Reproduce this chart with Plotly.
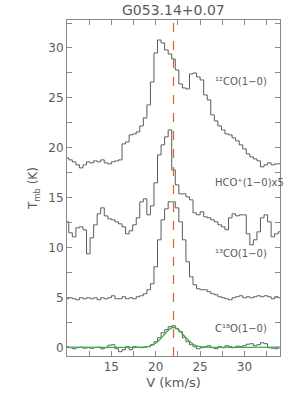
import plotly.graph_objects as go

velocity = [10.0, 10.4, 10.8, 11.2, 11.6, 12.0, 12.4, 12.8, 13.2, 13.6, 14.0, 14.4, 14.8, 15.2, 15.6,
            16.0, 16.4, 16.8, 17.2, 17.6, 18.0, 18.4, 18.8, 19.2, 19.6, 20.0, 20.4, 20.8, 21.2, 21.6,
            22.0, 22.4, 22.8, 23.2, 23.6, 24.0, 24.4, 24.8, 25.2, 25.6, 26.0, 26.4, 26.8, 27.2, 27.6,
            28.0, 28.4, 28.8, 29.2, 29.6, 30.0, 30.4, 30.8, 31.2, 31.6, 32.0, 32.4, 32.8, 33.2, 33.6, 34.0]

co12 = [19.0, 18.8, 18.6, 18.3, 18.0, 18.3, 18.6, 18.5, 18.7, 18.6, 18.8, 18.5, 18.4, 18.6, 18.7,
        18.8, 20.4, 20.6, 21.3, 21.4, 21.6, 22.2, 23.0, 24.3, 26.6, 29.5, 30.8, 30.5, 29.8, 29.4,
        28.9, 27.8, 26.4, 26.0, 25.9, 27.4, 27.5, 27.1, 26.8, 25.3, 24.8, 23.3, 22.7, 22.2, 21.8,
        21.4, 21.3, 21.0, 20.7, 20.3, 19.9, 19.4, 19.1, 18.9, 18.7, 18.1, 18.3, 18.5, 18.3, 18.4, 18.4]

hco_x5 = [12.6, 11.5, 11.1, 12.0, 12.1, 11.8, 9.4, 11.0, 12.3, 13.4, 14.0, 13.2, 12.9, 12.8, 12.6,
          12.4, 12.1, 11.4, 11.7, 12.3, 13.0, 14.6, 14.9, 13.3, 14.2, 16.5, 19.3, 20.3, 21.1, 21.8,
          17.8, 16.3, 15.4, 15.4, 15.1, 14.8, 13.5, 13.3, 13.6, 13.1, 13.0, 12.8, 12.6, 12.3, 12.1,
          11.8, 13.0, 13.4, 13.2, 13.3, 13.3, 11.4, 10.3, 10.8, 11.6, 13.0, 13.3, 12.6, 11.1, 11.4, 11.6]

co13 = [4.9, 5.0, 4.9, 4.8, 5.0, 4.9, 5.0, 4.9, 5.0, 4.8, 5.0, 4.9, 5.0, 5.2, 4.9,
        4.9, 5.1, 4.9, 5.0, 4.9, 5.1, 5.2, 5.4, 5.8, 6.4, 8.1, 10.8, 12.8, 13.9, 14.6,
        14.6, 14.0, 12.6, 10.8, 8.6, 7.1, 6.3, 5.9, 5.8, 5.8, 5.6, 5.4, 5.3, 5.1, 5.0,
        4.9, 4.8, 5.0, 5.1, 5.2, 5.0, 5.1, 5.0, 5.1, 5.2, 5.1, 5.2, 5.1, 4.9, 5.1, 5.0]

c18o = [0.1, 0.0, -0.1, 0.0, 0.05, -0.05, 0.0, -0.05, 0.0, 0.05, -0.1, 0.0, 0.25, 0.3, -0.1,
        -0.4, -0.2, 0.1, -0.2, 0.1, 0.05, 0.0, 0.05, 0.1, 0.3, 0.6, 1.0, 1.5, 1.8, 2.1,
        2.2, 1.9, 1.6, 1.0, 0.6, 0.3, 0.1, -0.1, 0.0, 0.1, 0.2, 0.0, -0.1, 0.1, 0.0,
        0.2, 0.1, 0.0, 0.15, 0.1, 0.2, 0.35, 0.4, 0.2, 0.3, 0.5, 0.4, 0.0, -0.05, -0.1, 0.0]

fit_velocity = [10.0, 18.5, 19.0, 19.5, 20.0, 20.5, 21.0, 21.5, 22.0, 22.5, 23.0, 23.5, 24.0, 24.5, 25.0, 25.5, 34.0]
fit_c18o = [0.05, 0.06, 0.1, 0.22, 0.45, 0.85, 1.35, 1.8, 2.05, 1.85, 1.4, 0.9, 0.5, 0.22, 0.1, 0.06, 0.05]

v_sys = 22.0

labels = ["¹²CO(1−0)", "HCO⁺(1−0)x5", "¹³CO(1−0)", "C¹⁸O(1−0)"]
label_v = [26.4, 26.4, 26.4, 26.4]
label_t = [26.6, 16.5, 9.4, 1.9]

x_major = [15, 20, 25, 30]
x_minor = [12.5, 17.5, 22.5, 27.5, 32.5]
y_major = [0, 5, 10, 15, 20, 25, 30]
y_minor = [2.5, 7.5, 12.5, 17.5, 22.5, 27.5, 32.5]

GRAY = "#5a5a5a"
AX = "#8a8a8a"
FONT = "DejaVu Sans"

fig = go.Figure()
for series in (co12, hco_x5, co13, c18o):
    fig.add_trace(go.Scatter(x=velocity, y=series, mode="lines", line_shape="hvh",
                             line=dict(color=GRAY, width=1), showlegend=False, hoverinfo="skip"))
fig.add_trace(go.Scatter(x=fit_velocity, y=fit_c18o, mode="lines", line_shape="spline",
                         line=dict(color="#3aae4a", width=1.3), showlegend=False, hoverinfo="skip"))

fig.add_vline(x=v_sys, line=dict(color="#dc6330", width=1.2, dash="dash"))

for txt, lv, lt in zip(labels, label_v, label_t):
    fig.add_annotation(x=lv, y=lt, text=txt, showarrow=False, xanchor="left", yanchor="middle",
                       font=dict(family=FONT, size=10, color=GRAY))

fig.add_annotation(xref="paper", yref="paper", x=-0.155, y=0.5, text="T<sub>mb</sub> (K)",
                   textangle=-90, showarrow=False, xanchor="center", yanchor="middle",
                   font=dict(family=FONT, size=12, color=GRAY))

axis_common = dict(showgrid=False, zeroline=False, showline=True, linecolor=AX, linewidth=1,
                   mirror="ticks", ticks="inside", ticklen=5, tickcolor=AX, tickwidth=1,
                   tickfont=dict(family=FONT, size=12, color=GRAY))

fig.update_layout(
    width=300, height=399,
    margin=dict(l=67, r=20, t=20, b=43),
    paper_bgcolor="white", plot_bgcolor="white",
    title=dict(text="G053.14+0.07", x=0.578, xanchor="center", y=0.975, yanchor="middle",
               font=dict(family=FONT, size=14, color=GRAY)),
    xaxis=dict(range=[10, 34], tickvals=x_major,
               minor=dict(tickvals=x_minor, ticks="inside", ticklen=5, tickcolor=AX, showgrid=False),
               title=dict(text="V (km/s)", font=dict(family=FONT, size=13, color=GRAY), standoff=4),
               **axis_common),
    yaxis=dict(range=[-0.83, 32.8], tickvals=y_major,
               minor=dict(tickvals=y_minor, ticks="inside", ticklen=5, tickcolor=AX, showgrid=False),
               **axis_common),
)

fig.write_html("out.html", config={"displayModeBar": False},
               post_script="document.body.style.margin='0';")
